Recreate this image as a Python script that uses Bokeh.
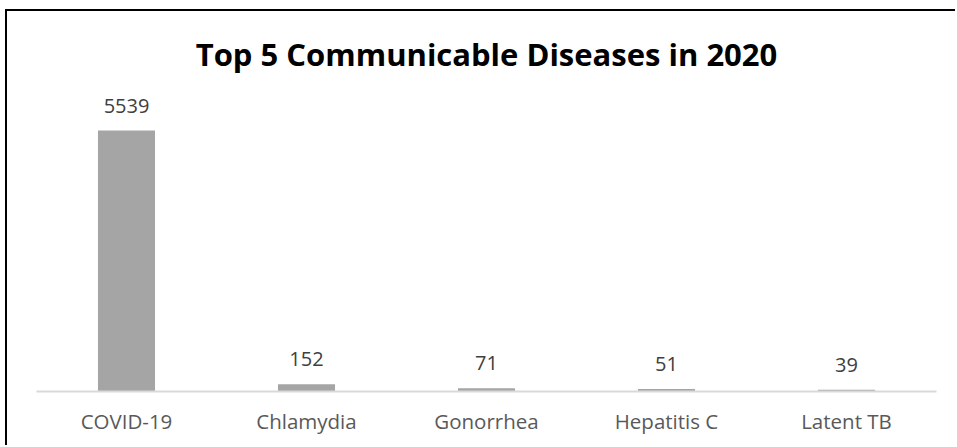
from bokeh.plotting import figure
from bokeh.models import ColumnDataSource, Range1d
from bokeh.embed import file_html
from bokeh.resources import INLINE

# Reported cases by disease, 2020
diseases = ["COVID-19", "Chlamydia", "Gonorrhea", "Hepatitis C", "Latent TB"]
cases = [5539, 152, 71, 51, 39]
case_labels = [str(v) for v in cases]

source = ColumnDataSource(data=dict(disease=diseases, cases=cases, label=case_labels))

# headroom above the tallest bar for its label
y_top = max(cases) * 301 / 261

p = figure(
    x_range=diseases,
    y_range=Range1d(0, y_top),
    width=950,
    height=436,
    output_backend="svg",
    toolbar_location=None,
    title="Top 5 Communicable Diseases in 2020",
    min_border_left=29,
    min_border_right=21,
    min_border_top=79,
    min_border_bottom=56,
    margin=(9, 0, 0, 5),
    styles={"border-top": "2px solid #000000", "border-left": "2px solid #000000"},
)

p.title.align = "center"
p.title.text_font = "Open Sans"
p.title.text_font_style = "bold"
p.title.text_font_size = "31px"
p.title.text_color = "#000000"
p.title.standoff = 32

p.vbar(x="disease", top="cases", width=0.317, source=source,
       fill_color="#A5A5A5", line_color=None)

p.text(x="disease", y="cases", text="label", source=source,
       text_align="center", text_baseline="bottom", y_offset=-18,
       text_font_size="20px", text_color="#404040",
       text_font={"value": "Open Sans"})

p.outline_line_color = None
p.xgrid.grid_line_color = None
p.ygrid.grid_line_color = None
p.yaxis.visible = False

ax = p.xaxis[0]
ax.axis_line_color = "#D9D9D9"
ax.axis_line_width = 2
ax.major_tick_line_color = None
ax.minor_tick_line_color = None
ax.major_label_text_font = "Open Sans"
ax.major_label_text_font_size = "20.5px"
ax.major_label_text_color = "#595959"
ax.major_label_standoff = 9

open("out.html", "w").write(file_html(p, INLINE))
